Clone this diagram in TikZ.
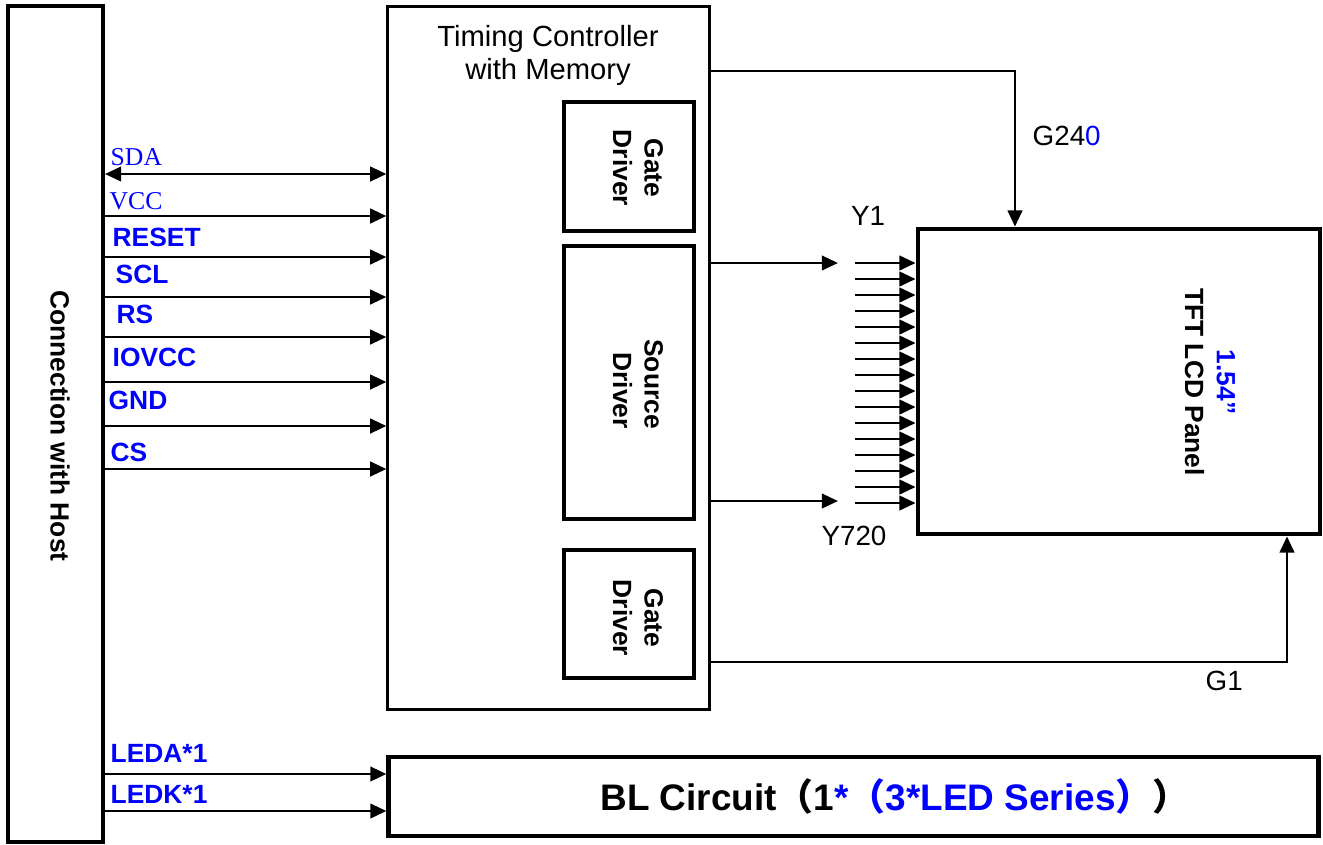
\documentclass[tikz,border=0pt]{standalone}
\usepackage{fontspec}
\setmainfont{Liberation Sans}
\newfontfamily\timesfont{Liberation Serif}
\newfontfamily\cjk{Noto Sans CJK SC}
\usetikzlibrary{arrows.meta}
\definecolor{sigblue}{RGB}{0,0,255}
\newcommand{\pinfont}{\fontsize{7.5}{9}\selectfont\bfseries}
\newcommand{\wirefont}{\fontsize{7.9}{9}\selectfont}

\begin{document}
\begin{tikzpicture}[x=0.01cm,y=-0.01cm,>={Triangle[length=4.6pt,width=4.1pt]}]
  \tikzstyle{blk} = [draw, rectangle, inner sep=0pt]
  \tikzstyle{sig} = [line width=0.8pt, ->]
  \tikzstyle{pin} = [anchor=base west, inner sep=0pt, text=sigblue, font=\pinfont]
  \tikzstyle{wire} = [anchor=base west, inner sep=0pt, font=\wirefont]
  \useasboundingbox (0,0) rectangle (1323,844);

  \node[blk, line width=1.1pt, minimum width=0.95cm, minimum height=8.36cm] (host) at (55.5,424) {};
  \node[rotate=-90, font=\pinfont] (hosttext) at (60,426) {Connection with Host};

  \node[blk, line width=0.85pt, minimum width=3.21cm, minimum height=7.02cm] (tcon) at (548.5,358) {};
  \node[align=center, font=\fontsize{8.3}{9.4}\selectfont] (tcontext) at (548,55) {Timing Controller\\with Memory};

  \node[blk, line width=1.25pt, minimum width=1.30cm, minimum height=1.29cm] (gd1) at (629,166.5) {};
  \node[blk, line width=1.25pt, minimum width=1.30cm, minimum height=2.73cm] (sd) at (629,382.5) {};
  \node[blk, line width=1.25pt, minimum width=1.30cm, minimum height=1.28cm] (gd2) at (629,614) {};
  \node[rotate=-90, align=center, font=\pinfont] (gd1text) at (638,168) {Gate\\Driver};
  \node[rotate=-90, align=right, font=\pinfont] (sdtext) at (638,384) {Source\\Driver};
  \node[rotate=-90, align=center, font=\pinfont] (gd2text) at (638,618) {Gate\\Driver};

  \node[blk, line width=1.3pt, minimum width=4.02cm, minimum height=3.05cm] (panel) at (1119,381.5) {};
  \node[rotate=-90, align=center, font=\pinfont] (paneltext) at (1210,382) {\textcolor{sigblue}{1.54”}\\TFT LCD Panel};

  \node[blk, line width=1.3pt, minimum width=9.29cm, minimum height=0.79cm] (bl) at (853.5,796.5) {};
  \node[font=\fontsize{10.5}{12}\selectfont\bfseries] (bltext) at (895,796) {BL Circuit{\cjk （}1\textcolor{sigblue}{*{\cjk （}3*LED Series{\cjk ）}}{\cjk ）}};

  % host interface
  \draw[line width=0.8pt, <->] (host.east |- 0,174) -- (tcon.west |- 0,174);
  \node[anchor=base west, inner sep=0pt, text=sigblue, font=\fontsize{7.3}{9}\timesfont] (sda) at (110,165) {SDA};
  \draw[sig] (host.east |- 0,216) -- (tcon.west |- 0,216);
  \node[anchor=base west, inner sep=0pt, text=sigblue, font=\fontsize{7.3}{9}\timesfont] (vcc) at (109,209) {VCC};
  \foreach \y/\ty/\tx/\name in {257/246/112/RESET, 297/283/115/SCL, 337/323/116/RS, 382/366/112/IOVCC, 426/409/108/GND, 469/461/110/CS}
  {
    \draw[sig] (host.east |- 0,\y) -- (tcon.west |- 0,\y);
    \node[pin] (pin\name) at (\tx,\ty) {\name};
  }
  \draw[sig] (host.east |- 0,774) -- (bl.west |- 0,774);
  \node[pin] (leda) at (110,762) {LEDA*1};
  \draw[sig] (host.east |- 0,811) -- (bl.west |- 0,811);
  \node[pin] (ledk) at (110,803) {LEDK*1};

  % source lines
  \coordinate (yfirst) at (838,263);
  \coordinate (ylast) at (838,501);
  \coordinate (bus) at (855,263);
  \draw[sig] (tcon.east |- yfirst) -- (yfirst);
  \draw[sig] (tcon.east |- ylast) -- (ylast);
  \foreach \i in {0,...,15}
    \draw[sig] (bus |- 0,263+16*\i) -- (panel.west |- 0,263+16*\i);
  \node[anchor=base, inner sep=0pt, font=\wirefont] (y1) at (868,225) {Y1};
  \node[anchor=base, inner sep=0pt, font=\wirefont] (y720) at (854,545) {Y720};

  % gate lines
  \draw[sig] (tcon.east |- 0,71) -| (panel.north -| 1015,0);
  \node[wire] (g240) at (1032,145) {G24\textcolor{sigblue}{0}};
  \draw[sig] (tcon.east |- 0,662) -| (panel.south -| 1287,0);
  \node[wire] (g1) at (1205,690) {G1};
\end{tikzpicture}
\end{document}
